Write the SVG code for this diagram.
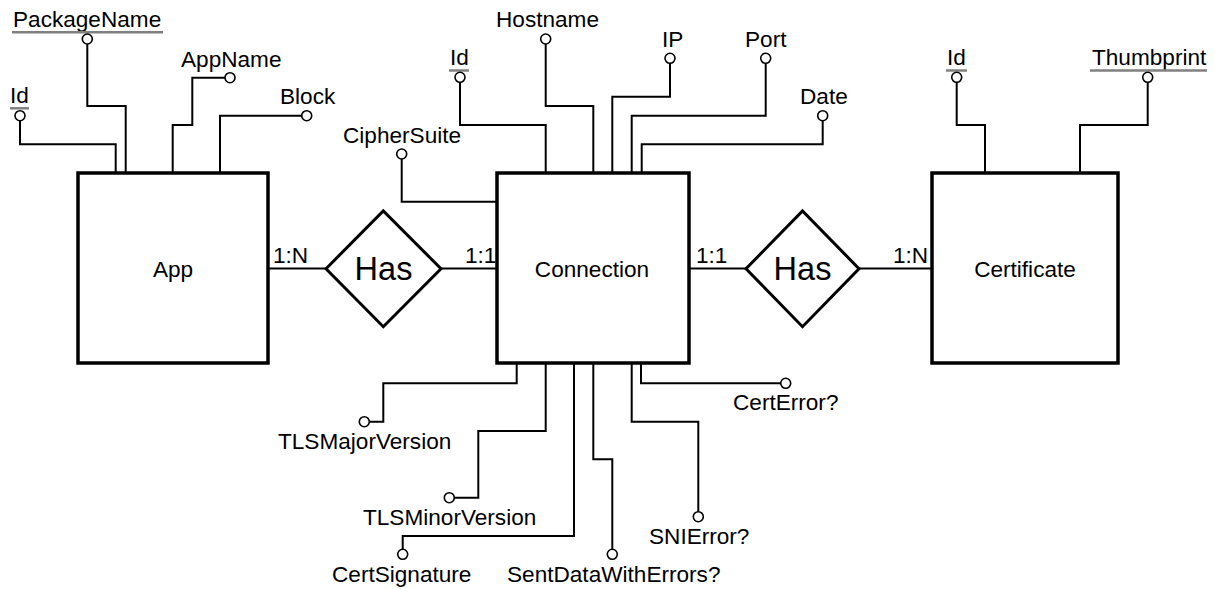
<svg xmlns="http://www.w3.org/2000/svg" width="1215" height="589" viewBox="0 0 1215 589">
<style>
  .ent { fill: #fff; stroke: #000; stroke-width: 3.5; }
  .rel { fill: #fff; stroke: #000; stroke-width: 3; stroke-linejoin: miter; }
  .ln { fill: none; stroke: #000; stroke-width: 2; }
  .att { fill: #fff; stroke: #000; stroke-width: 1.6; }
  .key { stroke: #808080; stroke-width: 2.5; }
  text { font-family: "Liberation Sans", Arial, sans-serif; font-size: 22.6px; fill: #000; }
  .big { font-size: 32.5px; }
  .mid { text-anchor: middle; }
</style>
<rect width="1215" height="589" fill="#fff"/>

<g id="connectors">
  <!-- App attributes -->
  <path class="ln" d="M87.3 39 V106 H125.7 V173"/>
  <path class="ln" d="M20 115.7 V144.3 H115.7 V173"/>
  <path class="ln" d="M230 77.7 H192.3 V125 H172.7 V173"/>
  <path class="ln" d="M306.7 115.7 H220 V173"/>
  <!-- Connection top attributes -->
  <path class="ln" d="M460 77.3 V125 H545.7 V173"/>
  <path class="ln" d="M545.7 39 V106 H593.3 V173"/>
  <path class="ln" d="M670 58.3 V96.7 H612.3 V173"/>
  <path class="ln" d="M401.7 154 V201.7 H497"/>
  <path class="ln" d="M765.7 58.3 V115.7 H631.7 V173"/>
  <path class="ln" d="M822.7 115.7 V144.3 H641.7 V173"/>
  <!-- Certificate attributes -->
  <path class="ln" d="M956.7 77.3 V125 H985 V173"/>
  <path class="ln" d="M1147.7 77.3 V125 H1080 V173"/>
  <!-- Connection bottom attributes -->
  <path class="ln" d="M516.7 363 V383.3 H383.3 V421.7 H364.3"/>
  <path class="ln" d="M545.7 363 V431 H478.3 V497.7 H449.3"/>
  <path class="ln" d="M574 363 V536 H402.7 V554.3"/>
  <path class="ln" d="M593.3 363 V459.3 H612.3 V554.3"/>
  <path class="ln" d="M631.7 363 V421.7 H698.3 V516.7"/>
  <path class="ln" d="M641 363 V383.3 H785.7"/>
  <!-- Relationship lines -->
  <path class="ln" d="M268 268.5 H326"/>
  <path class="ln" d="M441 268.5 H497"/>
  <path class="ln" d="M689 268.5 H746"/>
  <path class="ln" d="M859 268.5 H932"/>
</g>

<g id="App">
  <rect class="ent" x="78" y="173" width="190" height="190"/>
  <text class="mid" x="173" y="277">App</text>
</g>
<g id="Connection">
  <rect class="ent" x="497" y="173" width="192" height="190"/>
  <text class="mid" x="592" y="277">Connection</text>
</g>
<g id="Certificate">
  <rect class="ent" x="932" y="173" width="186" height="190"/>
  <text class="mid" x="1025" y="277">Certificate</text>
</g>

<g id="Has1">
  <polygon class="rel" points="326,268.7 383.3,211 441,268.7 383.3,326.7"/>
  <text class="big mid" x="383.5" y="280">Has</text>
</g>
<g id="Has2">
  <polygon class="rel" points="746,268.7 802.5,211 859,268.7 802.5,326.7"/>
  <text class="big mid" x="802.5" y="280">Has</text>
</g>

<g id="cardinalities">
  <text x="273" y="263">1:N</text>
  <text x="465" y="263">1:1</text>
  <text x="696" y="263">1:1</text>
  <text x="893" y="263">1:N</text>
</g>

<g id="attr-App-PackageName">
  <text x="13" y="27">PackageName</text>
  <line class="key" x1="12" y1="32.3" x2="163" y2="32.3"/>
  <circle class="att" cx="87.3" cy="39" r="5"/>
</g>
<g id="attr-App-Id">
  <text x="10" y="103">Id</text>
  <line class="key" x1="10" y1="108.3" x2="29" y2="108.3"/>
  <circle class="att" cx="20" cy="115.7" r="5"/>
</g>
<g id="attr-App-AppName">
  <text x="181" y="67">AppName</text>
  <circle class="att" cx="230" cy="77.7" r="5"/>
</g>
<g id="attr-App-Block">
  <text x="280" y="104">Block</text>
  <circle class="att" cx="306.7" cy="115.7" r="5"/>
</g>

<g id="attr-Conn-Id">
  <text x="450" y="65">Id</text>
  <line class="key" x1="449" y1="70.5" x2="469" y2="70.5"/>
  <circle class="att" cx="460" cy="77.3" r="5"/>
</g>
<g id="attr-Conn-Hostname">
  <text x="496" y="27">Hostname</text>
  <circle class="att" cx="545.7" cy="39" r="5"/>
</g>
<g id="attr-Conn-IP">
  <text x="662" y="47">IP</text>
  <circle class="att" cx="670" cy="58.3" r="5"/>
</g>
<g id="attr-Conn-CipherSuite">
  <text x="343" y="143">CipherSuite</text>
  <circle class="att" cx="401.7" cy="154" r="5"/>
</g>
<g id="attr-Conn-Port">
  <text x="745" y="47">Port</text>
  <circle class="att" cx="765.7" cy="58.3" r="5"/>
</g>
<g id="attr-Conn-Date">
  <text x="800" y="104">Date</text>
  <circle class="att" cx="822.7" cy="115.7" r="5"/>
</g>

<g id="attr-Cert-Id">
  <text x="947" y="65">Id</text>
  <line class="key" x1="946" y1="70.5" x2="967" y2="70.5"/>
  <circle class="att" cx="956.7" cy="77.3" r="5"/>
</g>
<g id="attr-Cert-Thumbprint">
  <text x="1092" y="65">Thumbprint</text>
  <line class="key" x1="1090" y1="70.5" x2="1207" y2="70.5"/>
  <circle class="att" cx="1147.7" cy="77.3" r="5"/>
</g>

<g id="attr-Conn-TLSMajorVersion">
  <text x="278" y="449">TLSMajorVersion</text>
  <circle class="att" cx="364.3" cy="421.7" r="5"/>
</g>
<g id="attr-Conn-TLSMinorVersion">
  <text x="363" y="525">TLSMinorVersion</text>
  <circle class="att" cx="449.3" cy="497.7" r="5"/>
</g>
<g id="attr-Conn-CertSignature">
  <text x="332" y="582">CertSignature</text>
  <circle class="att" cx="402.7" cy="554.3" r="5"/>
</g>
<g id="attr-Conn-SentDataWithErrors">
  <text x="507" y="582">SentDataWithErrors?</text>
  <circle class="att" cx="612.3" cy="554.3" r="5"/>
</g>
<g id="attr-Conn-SNIError">
  <text x="649" y="544">SNIError?</text>
  <circle class="att" cx="698.3" cy="516.7" r="5"/>
</g>
<g id="attr-Conn-CertError">
  <text x="733" y="410">CertError?</text>
  <circle class="att" cx="785.7" cy="383.3" r="5"/>
</g>
</svg>
